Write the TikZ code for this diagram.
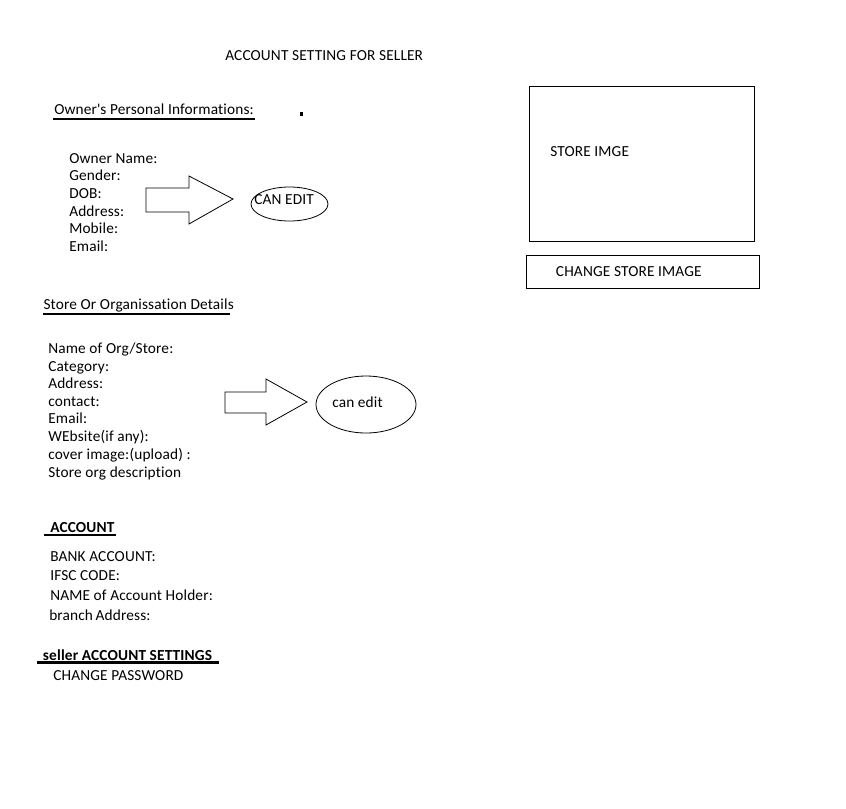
\documentclass[tikz,border=0pt]{standalone}
\usepackage{fontspec}
\setmainfont{Carlito}[Ligatures=NoCommon,LetterSpace=1]
\usetikzlibrary{shapes.geometric}

\tikzset{
  field/.style={anchor=base west,inner sep=0pt,font=\fontsize{11.5}{13}\selectfont},
  heading/.style={field},
  bar/.style={line width=2.2pt},
  editoval/.style={draw,ellipse,line width=.6pt,inner sep=0pt},
  editarrow/.style={draw,line width=.6pt,line join=miter},
  imgbox/.style={draw,line width=.8pt,inner sep=0pt,anchor=north west}
}

\begin{document}
\begin{tikzpicture}[x=.75pt,y=-.75pt]
  \useasboundingbox (0,0) rectangle (846,808);

  % title
  \node[heading] (title) at (225,60) {ACCOUNT SETTING FOR SELLER};

  % owner block
  \node[heading] (hdOwner) at (54,114) {Owner\textquotesingle s Personal Informations:};
  \draw[bar] (52.7,119) -- (255,119);
  \fill (300,112) rectangle (303,116);
  \foreach \t [count=\i from 0] in {Owner Name:,Gender:,DOB:,Address:,Mobile:,Email:}
    \node[field] (own\i) at (69,163+17.7*\i) {\t};
  \draw[editarrow] (146,188) -- (189,188) -- (189,176) -- (233,199)
    -- (189,224) -- (189,212) -- (146,212) -- cycle;
  \node[editoval,minimum width=57.75pt,minimum height=25.5pt] (oval1) at (289.5,204) {};
  \node[field] (edit1) at (254,204.3) {CAN EDIT};

  % store image
  \node[imgbox,minimum width=168.75pt,minimum height=116.25pt] (storeImg) at (529,86) {};
  \node[field] (storeTxt) at (550,156) {STORE IMGE};
  \node[imgbox,minimum width=174.75pt,minimum height=24.75pt] (changeImg) at (526,255) {};
  \node[field] (changeTxt) at (555.7,276) {CHANGE STORE IMAGE};

  % store details
  \node[heading] (hdStore) at (43.3,309) {Store Or Organissation Details};
  \draw[bar] (42.7,314) -- (230,314);
  \foreach \y/\t [count=\i] in {353/{Name of Org/Store:},371/Category:,388.5/Address:,406/contact:,
      423.5/Email:,441/WEbsite(if any):,459/cover image:(upload) :,477/Store org description}
    \node[field] (org\i) at (48,\y) {\t};
  \draw[editarrow] (225,392) -- (266,392) -- (266,379) -- (307,402)
    -- (266,425) -- (266,413) -- (225,413) -- cycle;
  \node[editoval,minimum width=75pt,minimum height=42.75pt] (oval2) at (366,404.5) {};
  \node[field] (edit2) at (332,407) {can edit};

  % account
  \node[heading,font=\fontsize{11.5}{13}\selectfont\bfseries] (hdAcc) at (50,532.7) {ACCOUNT};
  \draw[line width=1.2pt] (44,535) -- (116,535);
  \foreach \y/\t [count=\i] in {561.7/BANK ACCOUNT:,580.7/IFSC CODE:,600/NAME of Account Holder:}
    \node[field] (acc\i) at (50,\y) {\t};
  \node[field] (acc4) at (49,620) {branch\,Address:};

  % seller settings
  \node[heading,font=\fontsize{11.5}{13}\selectfont\bfseries] (hdSeller) at (42.7,660) {seller ACCOUNT SETTINGS};
  \draw[line width=1.6pt] (37,662.5) -- (219,662.5);
  \node[field] (pwd) at (53,680) {CHANGE PASSWORD};
\end{tikzpicture}
\end{document}
